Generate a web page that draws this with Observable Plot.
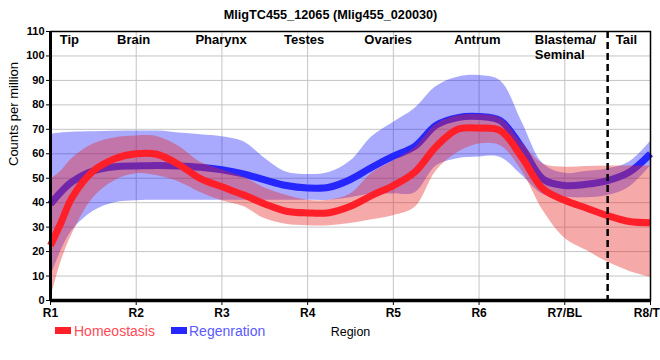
<!DOCTYPE html>
<html>
<head>
<meta charset="utf-8">
<script src="https://cdn.jsdelivr.net/npm/d3@7"></script>
<script src="https://cdn.jsdelivr.net/npm/@observablehq/plot@0.6"></script>
<style>
  html, body { margin: 0; padding: 0; background: white; overflow: hidden; }
  #wrap { position: relative; width: 660px; height: 360px; font-family: 'Liberation Sans', Arial, sans-serif; }
  .sw { position: absolute; width: 16px; height: 7px; top: 327px; }
  .lt { position: absolute; top: 324px; font-size: 14px; line-height: 14px; white-space: nowrap; }
</style>
</head>
<body>
<div id="wrap"></div>
<script>
// ---- data ----
const title = "MligTC455_12065 (Mlig455_020030)";
const yLabel = "Counts per million";
const xLabel = "Region";
const tickLabels = ["R1", "R2", "R3", "R4", "R5", "R6", "R7/BL", "R8/TL"];
const xTicks = [0, 1, 2, 3, 4, 5, 6, 7];
const yTicks = [0, 10, 20, 30, 40, 50, 60, 70, 80, 90, 100, 110];
const tailBoundary = 6.5;

const regionNames = ["Tip", "Brain", "Pharynx", "Testes", "Ovaries", "Antrum", "Tail"];
const regionAt    = [0.22, 0.97, 1.99, 2.96, 3.94, 4.98, 6.72];
const blastemaName = "Blastema/\nSeminal";
const blastemaAt = 5.65;

const seriesNames = ["Homeostasis", "Regenration"];

// sample positions along the region axis (R1 = 0 ... R8 = 7)
const xPos = [0, 0.125, 0.25, 0.5, 0.75, 1, 1.25, 1.5, 1.75, 2, 2.25, 2.5, 2.75, 3, 3.25, 3.5, 3.75, 4, 4.25, 4.5, 4.75, 5, 5.25, 5.5, 5.75, 6, 6.25, 6.5, 6.75, 7];

const homMean = [22.5, 32, 42, 53, 58, 60, 59.7, 55.5, 49.8, 46.5, 43.2, 39.5, 36.5, 35.8, 35.9, 38.5, 43, 47, 52.5, 63, 70, 70.5, 69.4, 58.5, 45.5, 41, 37.8, 34.7, 32.3, 31.8];
const homHi   = [49.5, 53, 58, 64, 66.5, 67.3, 67, 63, 56.5, 53.5, 50.5, 46, 43, 41, 41, 43.5, 52, 57, 62.5, 72, 75.5, 76, 74.5, 64.5, 55.8, 54.5, 54.8, 55, 55, 55];
const homLo   = [0.5, 16, 27, 42, 49, 51.8, 51, 48.5, 44.2, 40.8, 38.4, 33.5, 31.2, 30.6, 30.6, 31.5, 33, 34.7, 38, 53, 60.5, 64, 63.3, 53, 36.6, 25.5, 20.5, 15.7, 12, 9.5];

const regMean = [39.5, 44.5, 48.5, 53, 54.7, 55, 55.2, 55, 54.5, 53.5, 51.8, 49.3, 47, 46, 46.3, 49.5, 54.5, 59, 63, 71.7, 74.8, 75.2, 73.5, 62.5, 49.5, 47, 47.5, 49, 52.4, 60];
const regHi   = [68, 68.5, 68.8, 69, 69.2, 69.3, 69.3, 68.5, 67.8, 67, 65, 58.2, 52.5, 51.5, 52.3, 57, 67, 72.8, 78.5, 87.5, 91.3, 92, 89.8, 73, 55.8, 52, 52.8, 53.8, 56.5, 65];
const regLo   = [9.5, 20.5, 28.5, 36.5, 40, 40.8, 41, 41, 41, 41, 41, 41, 41, 41, 41, 42, 43.5, 43.6, 44, 55, 58, 58.7, 58.5, 51.2, 43.3, 42.2, 42, 42.9, 46.3, 55];

// ---- styles ----
const homLine = "#ff1f28";
const regLine = "#2626ff";
const homBand = "rgb(230,40,40)";
const regBand = "rgb(10,10,250)";
const homText = "#ff4a55";
const regText = "#5a5aff";
const curve = "catmull-rom";

const rows = xPos.map((x, i) => ({
  x, homMean: homMean[i], homHi: homHi[i], homLo: homLo[i],
  regMean: regMean[i], regHi: regHi[i], regLo: regLo[i]
}));
const regions = regionNames.map((name, i) => ({name, x: regionAt[i]}));

const font = "'Liberation Sans', Arial, sans-serif";
const chart = Plot.plot({
  width: 660,
  height: 360,
  marginTop: 31,
  marginBottom: 60,
  marginLeft: 50,
  marginRight: 10,
  style: {fontFamily: font, background: "white", color: "black", overflow: "visible"},
  x: {type: "linear", domain: [0, 7]},
  y: {type: "linear", domain: [0, 110]},
  marks: [
    Plot.gridY(yTicks, {stroke: "#c4c4c4", strokeOpacity: 1, strokeWidth: 1}),
    Plot.gridX(xTicks, {stroke: "#c4c4c4", strokeOpacity: 1, strokeWidth: 1}),
    Plot.areaY(rows, {x: "x", y1: "regLo", y2: "regHi", curve, fill: regBand, fillOpacity: 0.35}),
    Plot.line(rows, {x: "x", y: "regMean", curve, stroke: regLine, strokeWidth: 7, strokeLinecap: "butt"}),
    Plot.areaY(rows, {x: "x", y1: "homLo", y2: "homHi", curve, fill: homBand, fillOpacity: 0.4}),
    Plot.line(rows, {x: "x", y: "homMean", curve, stroke: homLine, strokeWidth: 7, strokeLinecap: "butt"}),
    Plot.ruleX([tailBoundary], {stroke: "black", strokeWidth: 2.5, strokeDasharray: "7,4"}),
    Plot.frame({stroke: "black", strokeWidth: 1.5}),
    Plot.ruleX([0], {stroke: "black", strokeWidth: 3}),
    Plot.ruleY([0], {stroke: "black", strokeWidth: 3.5}),
    Plot.axisX(xTicks, {tickFormat: i => tickLabels[i], tickSize: 5, tickPadding: 2.5, fontWeight: "bold", fontSize: 12, label: null, stroke: "black"}),
    Plot.axisY(yTicks, {tickSize: 4, tickPadding: 2, fontWeight: "bold", fontSize: 11, label: null, stroke: "black"}),
    Plot.text(regions, {x: "x", text: "name", frameAnchor: "top", lineAnchor: "top", dy: 3, fontWeight: "bold", fontSize: 13, fill: "black"}),
    Plot.text([blastemaName], {x: [blastemaAt], frameAnchor: "top", lineAnchor: "top", dy: 3, textAnchor: "start", lineHeight: 1.08, fontWeight: "bold", fontSize: 13, fill: "black"}),
    Plot.text([yLabel], {frameAnchor: "left", rotate: -90, dx: -37, fontSize: 13, fill: "black"}),
    Plot.text([xLabel], {frameAnchor: "bottom", dy: 35, fontSize: 12.5, fill: "black"}),
    Plot.text([title], {frameAnchor: "top", dx: -20, dy: -22, fontWeight: "bold", fontSize: 12.7, fill: "black"})
  ]
});

const wrap = document.getElementById("wrap");
wrap.appendChild(chart);

// legend below the plot frame
const legendItems = [
  {name: seriesNames[0], sw: homLine, tc: homText, swLeft: 55, tLeft: 74},
  {name: seriesNames[1], sw: regLine, tc: regText, swLeft: 171, tLeft: 189}
];
for (const it of legendItems) {
  const s = document.createElement("div");
  s.className = "sw";
  s.style.left = it.swLeft + "px";
  s.style.background = it.sw;
  wrap.appendChild(s);
  const t = document.createElement("div");
  t.className = "lt";
  t.style.left = it.tLeft + "px";
  t.style.color = it.tc;
  t.textContent = it.name;
  wrap.appendChild(t);
}
chart.style.position = "absolute";
chart.style.left = "0px";
chart.style.top = "0px";
</script>
</body>
</html>
